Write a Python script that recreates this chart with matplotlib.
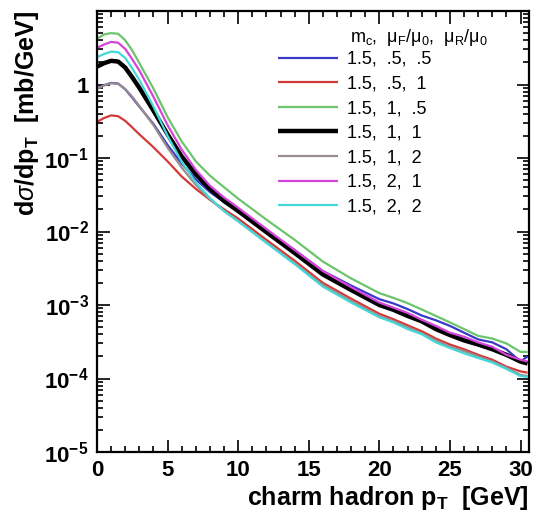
import matplotlib
matplotlib.use("Agg")
import matplotlib.pyplot as plt
from matplotlib.ticker import FixedLocator, LogLocator, NullFormatter, FuncFormatter, MultipleLocator
import math

plt.rcParams['font.family'] = ['Liberation Sans', 'DejaVu Sans']
plt.rcParams['mathtext.fontset'] = 'custom'
plt.rcParams['mathtext.rm'] = 'Liberation Sans'
plt.rcParams['mathtext.it'] = 'Liberation Sans:italic'
plt.rcParams['mathtext.bf'] = 'Liberation Sans:bold'

pt = [0, 0.5, 1, 1.5, 2, 2.5, 3, 4, 5, 6, 7, 8, 9, 10, 12, 14, 16, 18, 20,
      21, 22, 23, 24, 25, 26, 27, 28, 29, 30, 30.5]

blue = [0.88, 0.98, 1.05, 1.03, 0.86, 0.66, 0.50, 0.29, 0.150, 0.084, 0.051, 0.0344,
        0.0252, 0.019, 0.0103, 0.0056, 0.0029, 0.00184, 0.00120, 0.00105, 0.00088,
        0.00072, 0.00062, 0.00052, 0.00042, 0.00034, 0.00031, 0.00025, 0.00017, 0.00020]
red = [0.31, 0.35, 0.38, 0.37, 0.32, 0.26, 0.21, 0.14, 0.09, 0.056, 0.038, 0.027,
       0.0200, 0.0150, 0.0077, 0.0040, 0.0020, 0.00122, 0.00076, 0.00064, 0.00053,
       0.00044, 0.00035, 0.00029, 0.00025, 0.00021, 0.00018, 0.000145, 0.000125, 0.00012]
green = [4.2, 4.8, 5.0, 4.9, 4.0, 2.9, 1.95, 0.88, 0.36, 0.168, 0.090, 0.0575,
         0.040, 0.028, 0.0145, 0.0077, 0.0039, 0.0023, 0.00145, 0.00125, 0.00106,
         0.00087, 0.00071, 0.00058, 0.00047, 0.00038, 0.00035, 0.00030, 0.00023, 0.00023]
black = [1.75, 1.95, 2.10, 2.05, 1.70, 1.25, 0.90, 0.44, 0.21, 0.105, 0.060, 0.038,
         0.026, 0.019, 0.0098, 0.0051, 0.0026, 0.0016, 0.00100, 0.00086, 0.00071,
         0.00060, 0.00047, 0.00039, 0.00033, 0.00029, 0.00025, 0.00021, 0.00017, 0.00016]
gray = [0.87, 0.97, 1.04, 1.02, 0.87, 0.68, 0.51, 0.28, 0.138, 0.074, 0.043, 0.0275,
        0.019, 0.0138, 0.0071, 0.0037, 0.00187, 0.00113, 0.00071, 0.00060, 0.00050,
        0.00041, 0.00033, 0.00027, 0.000235, 0.000200, 0.000170, 0.000140, 0.000112, 0.000108]
magenta = [3.15, 3.5, 3.8, 3.7, 3.05, 2.2, 1.55, 0.68, 0.28, 0.13, 0.069, 0.042,
           0.029, 0.021, 0.0108, 0.0056, 0.0029, 0.00175, 0.00108, 0.00092, 0.00078,
           0.00063, 0.00052, 0.00042, 0.00037, 0.00031, 0.00027, 0.00021, 0.00018, 0.00017]
cyan = [2.35, 2.6, 2.8, 2.75, 2.3, 1.65, 1.15, 0.50, 0.20, 0.089, 0.046, 0.0285,
        0.019, 0.0138, 0.0070, 0.0036, 0.00178, 0.00108, 0.00068, 0.00058, 0.00047,
        0.00040, 0.00031, 0.00026, 0.00022, 0.00019, 0.000165, 0.000135, 0.000108, 0.000105]

mc = ['1.5'] * 7
muF = ['.5', '.5', '1', '1', '1', '2', '2']
muR = ['.5', '1', '.5', '1', '2', '1', '2']
legend_title = r'm$_\mathrm{c}$,  $\mathrm{\mu_F}$/$\mathrm{\mu_0}$,  $\mathrm{\mu_R}$/$\mathrm{\mu_0}$'

series = [blue, red, green, black, gray, magenta, cyan]
colors = ['#3a3ac8', '#d23a3a', '#6cc46c', '#000000', '#9a8c8c', '#d444d8', '#44d8d8']
widths = [1.6, 1.6, 1.6, 3.2, 1.6, 1.6, 1.6]

fig = plt.figure(figsize=(5.37, 5.14), dpi=100)
ax = fig.add_axes([97/537, 1 - 452/514, (529 - 97)/537, (452 - 11)/514])

for s, c, w, a, b, d in zip(series, colors, widths, mc, muF, muR):
    ax.plot(pt, s, color=c, lw=w, label=f'{a},  {b},  {d}', solid_capstyle='butt')

ax.set_yscale('log')
ax.set_xlim(0, 30.6)
ax.set_ylim(1e-5, 10)

ax.xaxis.set_major_locator(MultipleLocator(5))
ax.xaxis.set_minor_locator(MultipleLocator(1))
ax.yaxis.set_major_locator(FixedLocator([1e-5, 1e-4, 1e-3, 1e-2, 1e-1, 1, 10]))
ax.yaxis.set_minor_locator(LogLocator(base=10, subs=range(2, 10), numticks=20))
ax.yaxis.set_minor_formatter(NullFormatter())


def yfmt(v, pos):
    e = int(round(math.log10(v)))
    if e == 0:
        return '1'
    if e > 0:
        return ''
    return r'$\mathbf{10^{%d}}$' % e


ax.yaxis.set_major_formatter(FuncFormatter(yfmt))
ax.tick_params(which='both', direction='in', top=True, right=True, width=1.2)
ax.tick_params(which='major', length=9, labelsize=16, pad=6)
ax.tick_params(which='minor', length=4.5)
for lab in ax.get_xticklabels() + ax.get_yticklabels():
    lab.set_fontweight('bold')
for sp in ax.spines.values():
    sp.set_linewidth(1.6)

ax.set_xlabel(r'charm hadron p$_\mathbf{T}$  [GeV]', fontsize=18, fontweight='bold',
              loc='right', labelpad=2)
ax.set_ylabel(r'd$\sigma$/dp$_\mathbf{T}$  [mb/GeV]', fontsize=18, fontweight='bold',
              loc='top', labelpad=2)

ax.text((350 - 97)/432, 1 - (38 - 11)/441, legend_title, transform=ax.transAxes,
        fontsize=13, ha='left', va='center')
leg = ax.legend(loc='upper left', bbox_to_anchor=((278 - 97)/432, 1 - (51 - 11)/441),
                frameon=False, fontsize=13, handlelength=3.3,
                handletextpad=0.5, labelspacing=0.42, borderaxespad=0, borderpad=0)

fig.savefig('out.png', dpi=100)
